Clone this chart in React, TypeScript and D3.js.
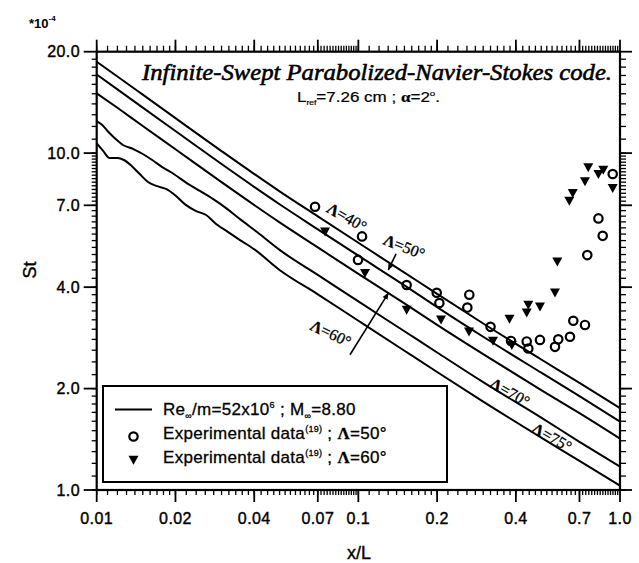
import React from 'react';
import * as d3 from 'd3';

const W = 639;
const H = 563;

// Axis tick labels
const xTickValues = [0.01, 0.02, 0.04, 0.07, 0.1, 0.2, 0.4, 0.7, 1.0];
const xTickText = ['0.01', '0.02', '0.04', '0.07', '0.1', '0.2', '0.4', '0.7', '1.0'];
const yTickValues = [1, 2, 4, 7, 10, 20];
const yTickText = ['1.0', '2.0', '4.0', '7.0', '10.0', '20.0'];

// Computed St (x1e-4) curves, Infinite-Swept PNS code
const sweepAngles = [40, 50, 60, 70, 75];
const xA = [0.01, 0.012, 0.015, 0.02, 0.03, 0.05, 0.07, 0.1, 0.15, 0.2, 0.3, 0.5, 0.7, 1.0];
const stL40 = [18.67, 16.88, 14.91, 12.7, 10.14, 7.7, 6.49, 5.42, 4.42, 3.82, 3.12, 2.44, 2.08, 1.75];
const stL50 = [17.12, 15.46, 13.65, 11.63, 9.28, 7.05, 5.94, 4.96, 4.05, 3.49, 2.85, 2.23, 1.9, 1.595];
const stL60 = [15.05, 13.63, 12.04, 10.27, 8.2, 6.23, 5.25, 4.38, 3.58, 3.09, 2.53, 1.98, 1.69, 1.42];
const xL70 = [0.01, 0.0105, 0.011, 0.0117, 0.0126, 0.0138, 0.015, 0.0163, 0.0178, 0.0197, 0.0221, 0.0248, 0.0278, 0.0315, 0.0353, 0.041, 0.05, 0.07, 0.1, 0.15, 0.2, 0.3, 0.5, 0.7, 1.0];
const stL70 = [12.45, 12.12, 11.63, 11.09, 10.57, 10.28, 9.94, 9.54, 9.09, 8.67, 8.15, 7.72, 7.31, 6.83, 6.37, 5.83, 5.16, 4.35, 3.63, 2.96, 2.56, 2.09, 1.64, 1.39, 1.173];
const xL75 = [0.01, 0.0106, 0.0112, 0.012, 0.0127, 0.0136, 0.0146, 0.0157, 0.0169, 0.0184, 0.0201, 0.0219, 0.024, 0.0262, 0.0286, 0.0318, 0.0353, 0.0403, 0.05, 0.07, 0.1, 0.15, 0.2, 0.3, 0.5, 0.7, 1.0];
const stL75 = [10.69, 10.14, 9.67, 9.67, 9.54, 9.16, 8.67, 8.21, 7.99, 7.83, 7.46, 7.02, 6.73, 6.55, 6.16, 5.83, 5.52, 5.16, 4.5, 3.81, 3.18, 2.59, 2.24, 1.83, 1.43, 1.22, 1.03];

// Experimental data, Lambda = 50 deg (circles)
const exp50X = [0.0683, 0.1033, 0.0997, 0.153, 0.1993, 0.204, 0.2655, 0.2609, 0.32, 0.3832, 0.44, 0.4462, 0.4945, 0.5643, 0.5809, 0.644, 0.663, 0.7348, 0.7499, 0.827, 0.8588, 0.9378];
const exp50St = [6.93, 5.66, 4.82, 4.06, 3.85, 3.59, 3.8, 3.48, 3.05, 2.77, 2.76, 2.63, 2.79, 2.66, 2.8, 2.85, 3.18, 3.09, 4.98, 6.4, 5.68, 8.67];

// Experimental data, Lambda = 60 deg (filled down triangles)
const exp60X = [0.0746, 0.106, 0.153, 0.207, 0.2648, 0.3271, 0.3859, 0.3782, 0.44, 0.4462, 0.4945, 0.5643, 0.576, 0.6402, 0.6597, 0.7348, 0.7564, 0.827, 0.8634, 0.9378];
const exp60St = [5.84, 4.4, 3.42, 3.2, 2.95, 2.77, 2.69, 3.22, 3.36, 3.54, 3.5, 3.85, 4.76, 7.21, 7.6, 8.23, 9.07, 8.65, 8.91, 7.86];

// Curve label anchors (x/L, St)
const labelAngles = [40, 50, 60, 70, 75];
const labelX = [0.0905, 0.15, 0.0786, 0.38, 0.55];
const labelSt = [6.46, 5.28, 2.92, 1.954, 1.436];

// Pointer arrows: [x0, St0, x1, St1]
const arrow50 = [0.1393, 5.02, 0.1302, 4.5];
const arrow60 = [0.0929, 2.52, 0.1302, 3.84];

function rangeI(a: number, b: number, step: number, scale: number) {
  return d3.range(a, b, step).map((v) => v / scale);
}

export default function App() {
  const x = d3.scaleLog().domain([0.01, 1]).range([96.7, 620]);
  const y = d3.scaleLog().domain([1, 20]).range([490, 51.7]);
  const [x0, x1] = x.range();
  const [yb, yt] = y.range();

  const curves: [number, number][][] = [
    xA.map((v, i) => [v, stL40[i]]),
    xA.map((v, i) => [v, stL50[i]]),
    xA.map((v, i) => [v, stL60[i]]),
    xL70.map((v, i) => [v, stL70[i]]),
    xL75.map((v, i) => [v, stL75[i]]),
  ];
  const line = d3
    .line<[number, number]>()
    .x((d) => x(d[0]))
    .y((d) => y(d[1]))
    .curve(d3.curveMonotoneX);

  const xMinor = [
    ...rangeI(10, 20, 1, 1000),
    ...rangeI(20, 40, 2, 1000),
    ...rangeI(400, 700, 25, 10000),
    ...rangeI(70, 100, 2, 1000),
    ...rangeI(10, 20, 1, 100),
    ...rangeI(20, 40, 2, 100),
    ...rangeI(400, 700, 25, 1000),
    ...rangeI(70, 100, 2, 100),
  ];
  const yMinor = [
    ...rangeI(10, 20, 1, 10),
    ...rangeI(20, 40, 2, 10),
    ...rangeI(400, 700, 25, 100),
    ...rangeI(70, 100, 2, 10),
    ...rangeI(10, 20, 1, 1),
  ];

  const sans = "'Liberation Sans', Arial, Helvetica, sans-serif";
  const serif = "'Liberation Serif', 'Times New Roman', serif";
  const tickStroke = 1.3;
  const minorLen = 5;
  const majorLen = 12;

  const tri = (cx: number, cy: number, s: number) =>
    `M${cx - s},${cy - s * 0.85}L${cx + s},${cy - s * 0.85}L${cx},${cy + s * 0.95}Z`;

  return (
    <svg
      width={W}
      height={H}
      viewBox={`0 0 ${W} ${H}`}
      style={{ position: 'absolute', left: 0, top: 0, background: '#fff' }}
    >
      <defs>
        <marker id="ah" viewBox="0 0 10 10" refX="9" refY="5" markerWidth="7" markerHeight="7" orient="auto-start-reverse" markerUnits="userSpaceOnUse">
          <path d="M0,1L10,5L0,9Z" fill="#000" />
        </marker>
      </defs>
      <rect x={0} y={0} width={W} height={H} fill="#fff" />

      {/* minor ticks */}
      <g stroke="#000" strokeWidth={tickStroke}>
        {xMinor.map((v, i) => (
          <g key={'xm' + i}>
            <line x1={x(v)} x2={x(v)} y1={yb} y2={yb + minorLen} />
            <line x1={x(v)} x2={x(v)} y1={yt} y2={yt - minorLen - 1} />
          </g>
        ))}
        {yMinor.map((v, i) => (
          <g key={'ym' + i}>
            <line y1={y(v)} y2={y(v)} x1={x0} x2={x0 - minorLen} />
            <line y1={y(v)} y2={y(v)} x1={x1} x2={x1 + minorLen + 1} />
          </g>
        ))}
        {xTickValues.map((v, i) => (
          <g key={'xM' + i}>
            <line x1={x(v)} x2={x(v)} y1={yb} y2={yb + majorLen} strokeWidth={1.8} />
            <line x1={x(v)} x2={x(v)} y1={yt} y2={yt - majorLen} strokeWidth={1.8} />
          </g>
        ))}
        {yTickValues.map((v, i) => (
          <g key={'yM' + i}>
            <line y1={y(v)} y2={y(v)} x1={x0} x2={x0 - majorLen - 1} strokeWidth={1.8} />
            <line y1={y(v)} y2={y(v)} x1={x1} x2={x1 + majorLen} strokeWidth={1.8} />
          </g>
        ))}
      </g>

      {/* frame */}
      <rect x={x0} y={yt} width={x1 - x0} height={yb - yt} fill="none" stroke="#000" strokeWidth={2.2} />

      {/* tick labels */}
      <g fontFamily={sans} fontSize={16} fill="#000" stroke="#000" strokeWidth={0.4}>
        {xTickValues.map((v, i) => (
          <text key={'xl' + i} x={x(v)} y={524} textAnchor="middle" letterSpacing={0.4}>
            {xTickText[i]}
          </text>
        ))}
        {yTickValues.map((v, i) => (
          <text key={'yl' + i} x={80} y={y(v) + 5.5} textAnchor="end" letterSpacing={0.4}>
            {yTickText[i]}
          </text>
        ))}
      </g>

      {/* axis titles */}
      <text x={359} y={559} textAnchor="middle" fontFamily={sans} fontSize={18} stroke="#000" strokeWidth={0.35}>
        x/L
      </text>
      <text
        transform={`translate(36,270) rotate(-90)`}
        textAnchor="middle"
        fontFamily={sans}
        fontSize={18}
        stroke="#000"
        strokeWidth={0.35}
      >
        St
      </text>
      <text x={29} y={28} fontFamily={sans} fontSize={13} fontWeight="bold">
        *10
        <tspan dy={-7} fontSize={8}>-4</tspan>
      </text>

      {/* title */}
      <text x={142} y={80} fontFamily={serif} fontStyle="italic" fontSize={24} textLength={470} lengthAdjust="spacingAndGlyphs" stroke="#000" strokeWidth={0.6}>
        Infinite-Swept Parabolized-Navier-Stokes code.
      </text>
      <text x={297} y={102} fontFamily={sans} fontSize={14} textLength={143} lengthAdjust="spacingAndGlyphs" stroke="#000" strokeWidth={0.2}>
        L<tspan dy={3} fontSize={7}>ref</tspan>
        <tspan dy={-3}>=7.26 cm ; </tspan>
        <tspan fontWeight="bold" fontFamily={serif}>α</tspan>
        <tspan>=2</tspan>
        <tspan dy={-6} fontSize={8}>o</tspan>
        <tspan dy={6}>.</tspan>
      </text>

      {/* curves */}
      <g fill="none" stroke="#000" strokeWidth={2}>
        {curves.map((c, i) => (
          <path key={'c' + sweepAngles[i]} d={line(c) || ''} />
        ))}
      </g>

      {/* curve labels */}
      <g fontFamily={serif} fontSize={16} fill="#000" stroke="#000" strokeWidth={0.3}>
        {labelAngles.map((a, i) => (
          <text
            key={'lab' + a}
            transform={`translate(${x(labelX[i])},${y(labelSt[i])}) rotate(${a === 50 ? 22 : a === 60 ? 26 : 30})`}
            textAnchor="middle"
            dominantBaseline="central"
          >
            <tspan fontWeight="bold">Λ</tspan>={a}°
          </text>
        ))}
      </g>

      {/* arrows */}
      <g stroke="#000" strokeWidth={1.6}>
        {[arrow50, arrow60].map((a, i) => (
          <line key={'ar' + i} x1={x(a[0])} y1={y(a[1])} x2={x(a[2])} y2={y(a[3])} markerEnd="url(#ah)" />
        ))}
      </g>

      {/* experimental data */}
      <g fill="none" stroke="#000" strokeWidth={2.2}>
        {exp50X.map((v, i) => (
          <circle key={'e50' + i} cx={x(v)} cy={y(exp50St[i])} r={4.2} />
        ))}
      </g>
      <g fill="#000">
        {exp60X.map((v, i) => (
          <path key={'e60' + i} d={tri(x(v), y(exp60St[i]), 5)} />
        ))}
      </g>

      {/* legend */}
      <rect x={103} y={386} width={344} height={96} fill="#fff" stroke="#000" strokeWidth={2} />
      <line x1={115} x2={152} y1={409.5} y2={409.5} stroke="#000" strokeWidth={2} />
      <circle cx={133.5} cy={436.5} r={4.2} fill="none" stroke="#000" strokeWidth={2.2} />
      <path d={tri(133.5, 460, 5)} fill="#000" />
      <g fontFamily={sans} fontSize={17} fill="#000" stroke="#000" strokeWidth={0.3} letterSpacing={0.3}>
        <text x={163} y={415}>
          Re<tspan dy={4} fontSize={9}>∞</tspan>
          <tspan dy={-4}>/m=52x10</tspan>
          <tspan dy={-7} fontSize={9}>6</tspan>
          <tspan dy={7}> ; M</tspan>
          <tspan dy={4} fontSize={9}>∞</tspan>
          <tspan dy={-4}>=8.80</tspan>
        </text>
        <text x={163} y={439}>
          Experimental data
          <tspan dy={-7} fontSize={9}>(19)</tspan>
          <tspan dy={7}> ; </tspan>
          <tspan fontFamily={serif} fontWeight="bold">Λ</tspan>
          <tspan>=50°</tspan>
        </text>
        <text x={163} y={463}>
          Experimental data
          <tspan dy={-7} fontSize={9}>(19)</tspan>
          <tspan dy={7}> ; </tspan>
          <tspan fontFamily={serif} fontWeight="bold">Λ</tspan>
          <tspan>=60°</tspan>
        </text>
      </g>
    </svg>
  );
}
